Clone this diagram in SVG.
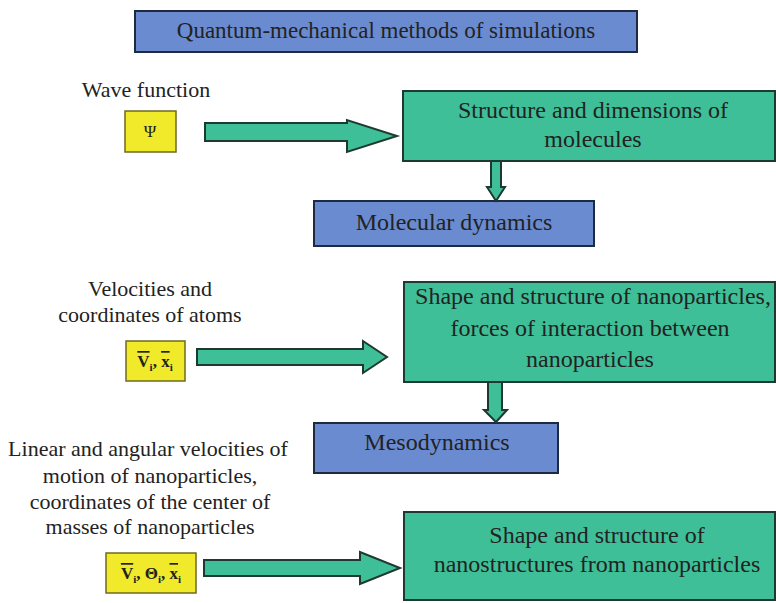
<svg xmlns="http://www.w3.org/2000/svg" width="776" height="603" viewBox="0 0 776 603" font-family="Liberation Serif, serif">
<defs>
<style>
text{font-family:"Liberation Serif",serif;fill:#222;font-size:23px;text-anchor:middle}
.big{font-size:24px}
.lab{font-size:22px}
.blue{fill:#6a8bd0;stroke:#1e2a40;stroke-width:2}
.green{fill:#3fbf98;stroke:#1e3a30;stroke-width:2}
.yellow{fill:#f0ea2a;stroke:#6f6a20;stroke-width:1.5}
.arr{fill:#3fbf98;stroke:#1e3a30;stroke-width:2;stroke-linejoin:miter}
.math{font-size:17px;font-weight:bold}
.ov{text-decoration:overline}
.sub{font-size:11px}
</style>
</defs>
<rect width="776" height="603" fill="#fff"/>
<g id="title"><rect class="blue" x="135" y="11" width="502" height="41"/><text x="386" y="38">Quantum-mechanical methods of simulations</text></g>
<g id="wave-label"><text class="lab" x="146" y="97">Wave function</text></g>
<g id="psi"><rect class="yellow" x="125" y="111" width="51" height="41"/><text x="150" y="137" style="font-size:17px">Ψ</text></g>
<g id="struct-mol"><rect class="green" x="403" y="91" width="372" height="70"/><text class="big" x="593" y="118">Structure and dimensions of</text><text class="big" x="593" y="147">molecules</text></g>
<g id="mol-dyn"><rect class="blue" x="314" y="201" width="280" height="45"/><text class="big" x="454" y="230">Molecular dynamics</text></g>
<g id="vel-label"><text class="lab" x="150" y="296">Velocities and</text><text class="lab" x="150" y="322">coordinates of atoms</text></g>
<g id="vx"><rect class="yellow" x="126" y="341" width="59" height="40"/><text class="math" x="155" y="367"><tspan class="ov">V</tspan><tspan class="sub" dy="4">i</tspan><tspan dy="-4">, </tspan><tspan class="ov">x</tspan><tspan class="sub" dy="4">i</tspan></text></g>
<g id="shape-np"><rect class="green" x="404" y="282" width="371" height="100"/><text class="big" x="593" y="304" textLength="356" lengthAdjust="spacingAndGlyphs">Shape and structure of nanoparticles,</text><text class="big" x="590" y="336">forces of interaction between</text><text class="big" x="590" y="367">nanoparticles</text></g>
<g id="meso"><rect class="blue" x="314" y="423" width="244" height="50"/><text class="big" x="437" y="450">Mesodynamics</text></g>
<g id="lin-label"><text class="lab" x="148" y="456">Linear and angular velocities of</text><text class="lab" x="150" y="483">motion of nanoparticles,</text><text class="lab" x="150" y="509">coordinates of the center of</text><text class="lab" x="150" y="534">masses of nanoparticles</text></g>
<g id="vtx"><rect class="yellow" x="106" y="553" width="90" height="40"/><text class="math" x="151" y="579"><tspan class="ov">V</tspan><tspan class="sub" dy="4">i</tspan><tspan dy="-4">, Θ</tspan><tspan class="sub" dy="4">i</tspan><tspan dy="-4">, </tspan><tspan class="ov">x</tspan><tspan class="sub" dy="4">i</tspan></text></g>
<g id="shape-ns"><rect class="green" x="404" y="512" width="371" height="88"/><text class="big" x="597" y="543">Shape and structure of</text><text class="big" x="597" y="572">nanostructures from nanoparticles</text></g>
<g id="connectors">
<polygon class="arr" points="205,123 347,123 347,120 397,136 347,152 347,141 205,141"/>
<polygon class="arr" points="491,161 501,161 501,187 505,187 496,201 487,187 491,187"/>
<polygon class="arr" points="197,349 363,349 363,341 387,357 363,373 363,365 197,365"/>
<polygon class="arr" points="488,382 502,382 502,410 507,410 496,422 484,410 488,410"/>
<polygon class="arr" points="204,560 360,560 360,552 400,568 360,584 360,576 204,576"/>
</g>
</svg>
